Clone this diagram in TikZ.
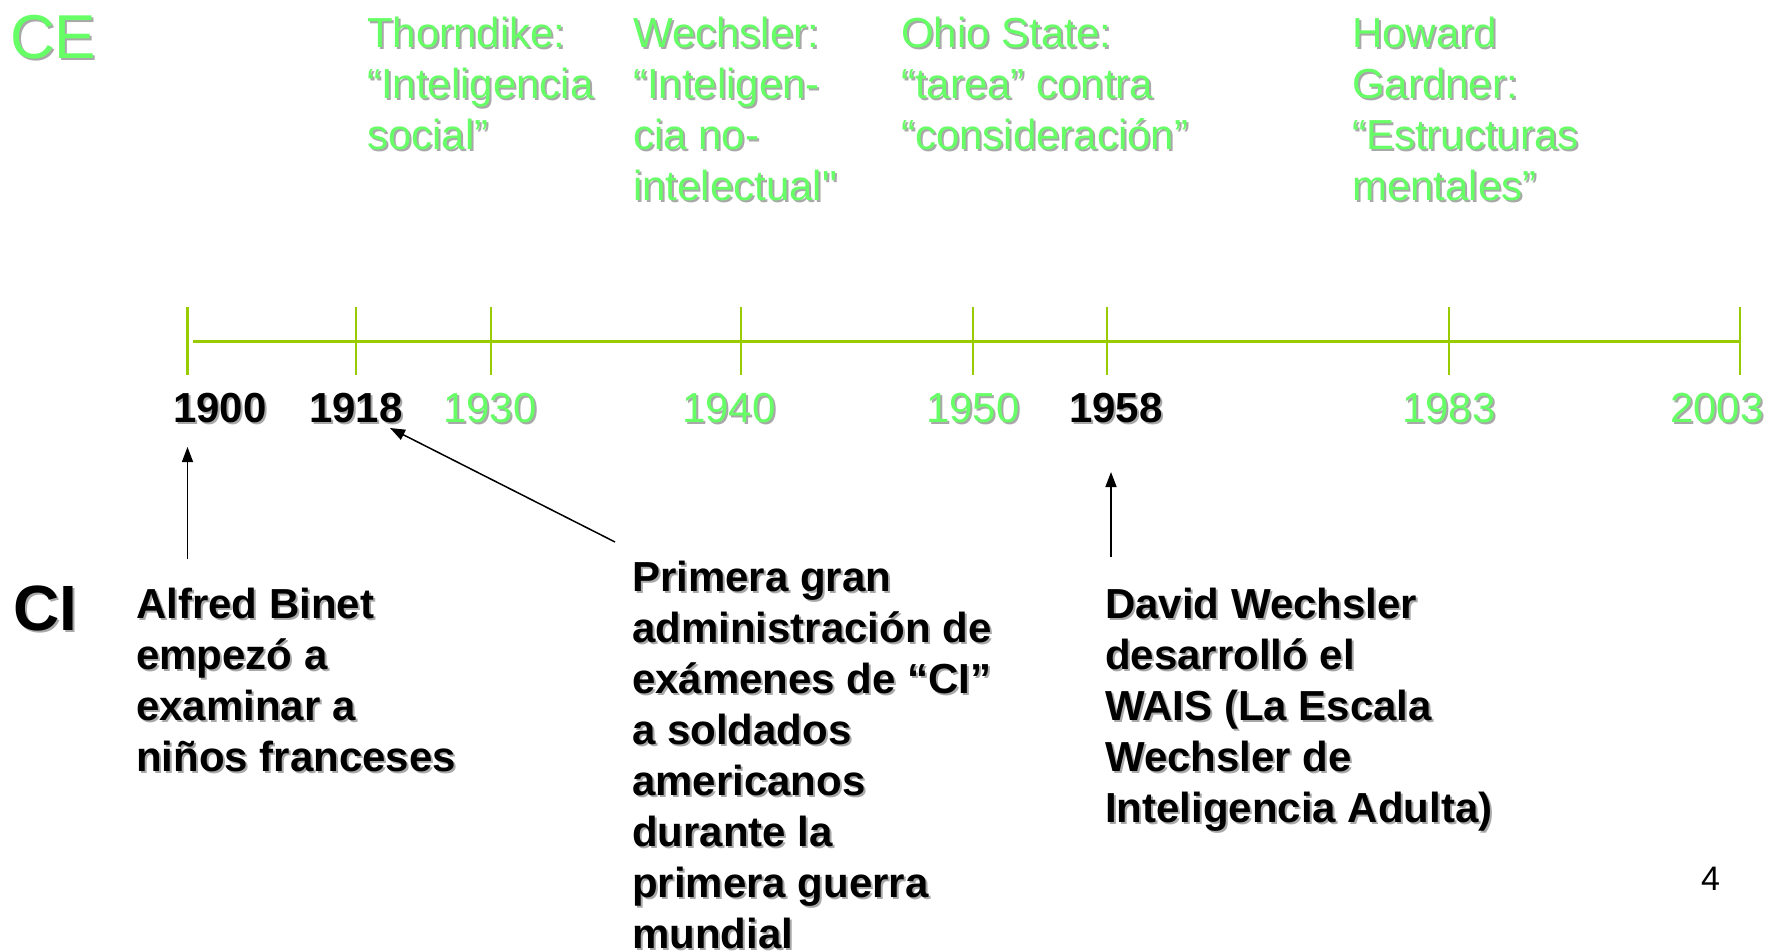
\documentclass[tikz,border=0pt]{standalone}
\usepackage{fontspec}
\setmainfont{Liberation Sans}
\usetikzlibrary{arrows.meta}
\definecolor{tlgreen}{HTML}{99CC00}
\definecolor{txgreen}{HTML}{66FF66}
\definecolor{shgray}{HTML}{A8A8A8}
\newcommand\shl[1]{\leavevmode\rlap{\raisebox{-2pt}{\hspace{2pt}\textcolor{shgray}{#1}}}#1}
\newcommand\strq{\XeTeXglyph\XeTeXcharglyph"22\relax}
\begin{document}
\begin{tikzpicture}[x=1pt,y=-1pt,
  gtext/.style={font=\fontsize{42}{51}\selectfont, text=txgreen, align=left, anchor=north west, inner sep=0pt},
  btext/.style={font=\bfseries\fontsize{42}{51}\selectfont, text=black, align=left, anchor=north west, inner sep=0pt},
  gyear/.style={font=\fontsize{42}{51}\selectfont, text=txgreen, anchor=west, inner sep=0pt},
  byear/.style={font=\bfseries\fontsize{42}{51}\selectfont, text=black, anchor=west, inner sep=0pt},
  tick/.style={draw=tlgreen, line width=2.5pt},
  arr/.style={draw=black, line width=1.5pt, -{Triangle[length=15pt,width=11pt]}}]
\useasboundingbox (0,0) rectangle (1782,950);

% headings
\node[font=\fontsize{62}{64}\selectfont, text=txgreen, anchor=north west, inner sep=0pt] (ce) at (10,15) {\shl{CE}};
\node[font=\bfseries\fontsize{64}{66}\selectfont, text=black, anchor=north west, inner sep=0pt] (ci) at (13,586) {\shl{CI}};

% top green texts
\node[gtext] (thorn) at (367,17) {\shl{Thorndike:}\\\shl{“Inteligencia}\\\shl{social”}};
\node[gtext] (wech) at (633,17) {\shl{Wechsler:}\\\shl{“Inteligen-}\\\shl{cia no-}\\\shl{intelectual\strq}};
\node[gtext] (ohio) at (901,17) {\shl{Ohio State:}\\\shl{“tarea” contra}\\\shl{“consideración”}};
\node[gtext] (gard) at (1352,17) {\shl{Howard}\\\shl{Gardner:}\\\shl{“Estructuras}\\\shl{mentales”}};

% timeline
\coordinate (t1900) at (187.5,341);
\coordinate (t1918) at (356,341);
\coordinate (t1930) at (491,341);
\coordinate (t1940) at (741,341);
\coordinate (t1950) at (973,341);
\coordinate (t1958) at (1107,341);
\coordinate (t1983) at (1449,341);
\coordinate (t2003) at (1740,341);
\coordinate (lstart) at (193,341);
\coordinate (lend) at (1739,341);
\draw[tlgreen, line width=3pt] (lstart) -- (lend);
\foreach \t in {t1900,t1918,t1930,t1940,t1950,t1958,t1983,t2003}
  \draw[tick] (\t) ++(0,-34) -- ++(0,68);

% years
\node[byear] (y1900) at (173,409) {\shl{1900}};
\node[byear] (y1918) at (309,409) {\shl{1918}};
\node[gyear] (y1930) at (443,409) {\shl{1930}};
\node[gyear] (y1940) at (682,409) {\shl{1940}};
\node[gyear] (y1950) at (926,409) {\shl{1950}};
\node[byear] (y1958) at (1069,409) {\shl{1958}};
\node[gyear] (y1983) at (1402,409) {\shl{1983}};
\node[gyear] (y2003) at (1670,409) {\shl{2003}};

% bottom texts
\node[btext] (binet) at (136,588) {\shl{Alfred Binet}\\\shl{empezó a}\\\shl{examinar a}\\\shl{niños franceses}};
\node[btext] (prim) at (632,561) {\shl{Primera gran}\\\shl{administración de}\\\shl{exámenes de “CI”}\\\shl{a soldados}\\\shl{americanos}\\\shl{durante la}\\\shl{primera guerra}\\\shl{mundial}};
\node[btext] (david) at (1105,588) {\shl{David Wechsler}\\\shl{desarrolló el}\\\shl{WAIS (La Escala}\\\shl{Wechsler de}\\\shl{Inteligencia Adulta)}};

% arrows
\coordinate (a1s) at (187.5,559);
\coordinate (a1e) at (187.5,447);
\coordinate (a2s) at (615,542);
\coordinate (a2e) at (390,428);
\coordinate (a3s) at (1111,557);
\coordinate (a3e) at (1111,472);
\draw[arr] (a1s) -- (a1e);
\draw[arr] (a2s) -- (a2e);
\draw[arr] (a3s) -- (a3e);

% page number
\node[font=\fontsize{34}{36}\selectfont, anchor=north west, inner sep=0pt] (pg) at (1701,867) {4};
\end{tikzpicture}
\end{document}
